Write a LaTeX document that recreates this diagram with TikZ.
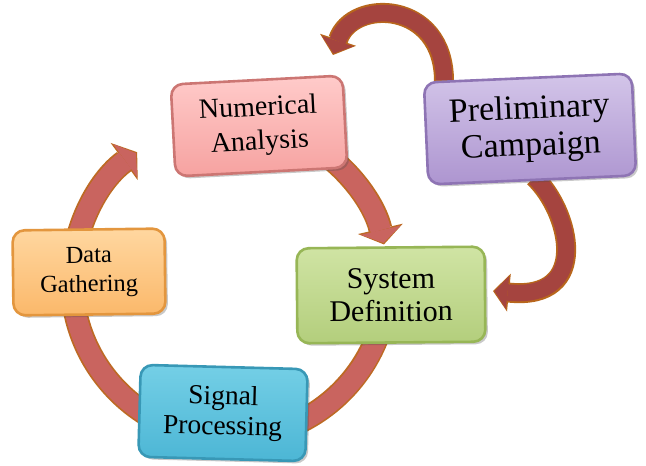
\documentclass[tikz,border=0pt]{standalone}
\usepackage{fontspec}
\setmainfont{Liberation Serif}
\usetikzlibrary{arrows.meta,shadows,backgrounds}
\definecolor{naTop}{HTML}{FFCBCA}
\definecolor{naBot}{HTML}{F6A2A0}
\definecolor{naLine}{HTML}{CC7673}
\definecolor{pcTop}{HTML}{D3C5E9}
\definecolor{pcBot}{HTML}{AD95D0}
\definecolor{pcLine}{HTML}{8E74B4}
\definecolor{dgTop}{HTML}{FFD7A0}
\definecolor{dgBot}{HTML}{FBB86A}
\definecolor{dgLine}{HTML}{E3963E}
\definecolor{spTop}{HTML}{74CFE6}
\definecolor{spBot}{HTML}{4CB6D5}
\definecolor{spLine}{HTML}{3898B6}
\definecolor{sdTop}{HTML}{D0E4A4}
\definecolor{sdBot}{HTML}{B3CE7C}
\definecolor{sdLine}{HTML}{97B656}
\definecolor{ringFill}{HTML}{C9645F}
\definecolor{ringLine}{HTML}{BD6A24}
\definecolor{arrFill}{HTML}{A5443F}
\definecolor{arrLine}{HTML}{B8661C}
\begin{document}
\begin{tikzpicture}[x=1pt,y=1pt,
  box/.style={rounded corners=12pt, line width=2.6pt, align=center, inner sep=0pt,
    drop shadow={shadow xshift=2.5pt, shadow yshift=-2.5pt, opacity=0.3, fill=black!70}},
  ringout/.style={line width=24pt, draw=ringLine, shorten <=-1.2pt,
    -{Triangle[width=46pt,length=16pt,line width=0pt]}},
  ringin/.style={line width=20.5pt, draw=ringFill, shorten >=1.6pt,
    -{Triangle[width=41pt,length=13pt,line width=0pt]}},
  bandout/.style={line width=20pt, draw=arrLine, shorten <=-1.2pt,
    -{Triangle[width=38pt,length=16pt,line width=0pt]}},
  bandin/.style={line width=16.5pt, draw=arrFill, shorten >=1.6pt,
    -{Triangle[width=33pt,length=13pt,line width=0pt]}}
]
\useasboundingbox (0,0) rectangle (646,466);

% boxes
\node[box, top color=naTop, bottom color=naBot, draw=naLine, rotate=3,
  minimum width=172pt, minimum height=92pt,
  font=\fontsize{28}{34}\selectfont] (na) at (259,340) {Numerical\\Analysis};
\node[box, top color=pcTop, bottom color=pcBot, draw=pcLine, rotate=2.5,
  minimum width=208pt, minimum height=102pt,
  font=\fontsize{34}{37}\selectfont] (pc) at (530,337) {Preliminary\\Campaign};
\node[box, top color=dgTop, bottom color=dgBot, draw=dgLine, rotate=0.7,
  minimum width=152pt, minimum height=85pt,
  font=\fontsize{24.5}{29}\selectfont] (dg) at (89,194) {Data\\Gathering};
\node[box, top color=spTop, bottom color=spBot, draw=spLine, rotate=-1.5,
  minimum width=167pt, minimum height=92pt,
  font=\fontsize{27.5}{30}\selectfont] (sp) at (223,53) {Signal\\Processing};
\node[box, top color=sdTop, bottom color=sdBot, draw=sdLine, rotate=0.5,
  minimum width=188pt, minimum height=95pt,
  font=\fontsize{30}{33}\selectfont] (sd) at (391,171) {System\\Definition};

\coordinate (ringc) at (230,186);
\coordinate (topTip) at (333,411);
\coordinate (rightTip) at (493,175);

\begin{scope}[on background layer]
  % big ring: Numerical Analysis -> System Definition
  \draw[ringout] ([shift={(55:158)}]ringc) arc[start angle=55, end angle=13, radius=158];
  \draw[ringin]  ([shift={(55:158)}]ringc) arc[start angle=55, end angle=13, radius=158];
  % big ring: System Definition -> Signal Processing -> Data Gathering -> Numerical Analysis
  \draw[ringout] ([shift={(-5:158)}]ringc) arc[start angle=-5, end angle=-234, radius=158];
  \draw[ringin]  ([shift={(-5:158)}]ringc) arc[start angle=-5, end angle=-234, radius=158];
  % Preliminary Campaign -> Numerical Analysis
  \draw[bandout] ([shift={(-86,49)}]pc.center) .. controls +(0,80) and (352,468) .. (topTip);
  \draw[bandin]  ([shift={(-86,49)}]pc.center) .. controls +(0,80) and (352,468) .. (topTip);
  % Preliminary Campaign -> System Definition
  \draw[bandout] ([shift={(5,-49)}]pc.center) .. controls +(35,-33) and (592,165) .. (rightTip);
  \draw[bandin]  ([shift={(5,-49)}]pc.center) .. controls +(35,-33) and (592,165) .. (rightTip);
\end{scope}
\end{tikzpicture}
\end{document}
